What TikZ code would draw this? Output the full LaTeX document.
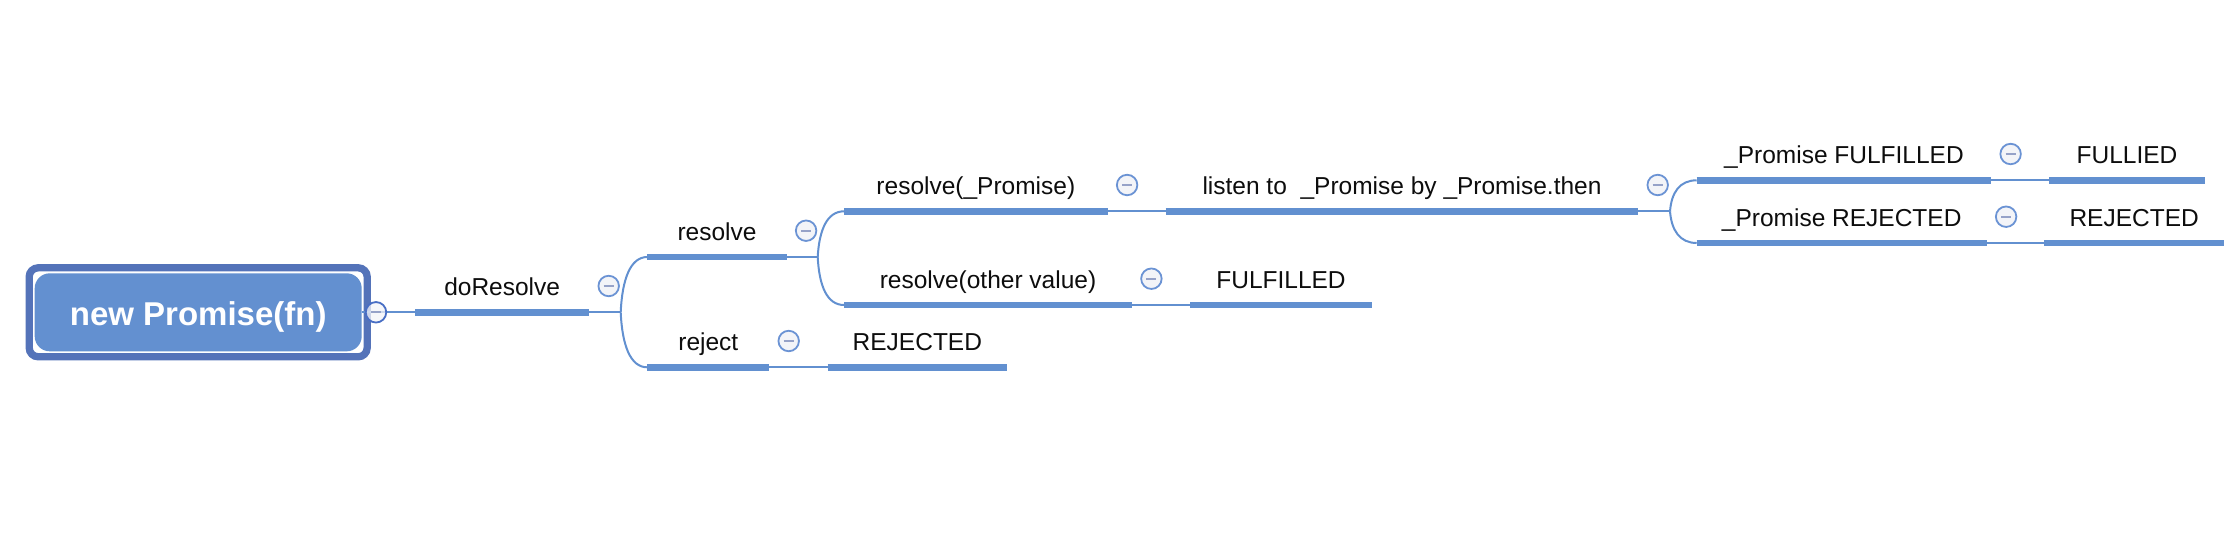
\documentclass[tikz,border=0pt]{standalone}
\usepackage{fontspec}
\setmainfont{Liberation Sans}

\definecolor{mapblue}{RGB}{98,144,208}
\definecolor{rootfill}{RGB}{99,144,208}
\definecolor{rootframe}{RGB}{84,115,185}
\definecolor{ringblue}{RGB}{107,147,212}
\definecolor{ringdark}{RGB}{72,110,196}
\definecolor{ringfill}{RGB}{243,244,248}
\definecolor{minusgray}{RGB}{150,162,200}

\begin{document}
\begin{tikzpicture}[
    x=1pt, y=-1pt,
    topic/.style={anchor=south west, minimum width=#1, inner xsep=0pt, inner ysep=16.7pt,
        outer sep=0pt, text depth=0pt, text=black!95, font=\fontsize{24.5}{29}\selectfont},
    underline/.style={draw=mapblue, line width=6.7pt},
    connection/.style={draw=mapblue, line width=2pt},
    collapse/.style={circle, draw=ringblue, fill=ringfill, line width=1.8pt, minimum size=20.5pt,
        inner sep=0pt, path picture={\draw[minusgray, line width=2pt]
        ([xshift=-5pt]path picture bounding box.center) -- ([xshift=5pt]path picture bounding box.center);}},
    root/.style={rounded corners=15pt, fill=rootfill, text=white, minimum width=327pt, minimum height=78pt,
        inner sep=0pt, outer sep=0pt, text height=25.4pt, text depth=0pt,
        font=\bfseries\fontsize{33}{38}\selectfont},
    root frame/.style={draw=rootframe, line width=7.3pt, rounded corners=9pt}
]

\useasboundingbox (0,0) rectangle (2232,558);

% Root
\node[root] (root) at (198.2,312.3) {new Promise(fn)};
\draw[root frame] ([shift={(-5.5,-5.5)}]root.north west) rectangle ([shift={(5.5,5.5)}]root.south east);

% Level 1
\node[topic=174.3pt] (doResolve) at (415,312.3) {doResolve};
\draw[underline] (doResolve.south west) -- (doResolve.south east);
\draw[connection] (root.east) -- (doResolve.south west);
\node[collapse, draw=ringdark, fill opacity=0.75] (rootBtn) at ([xshift=14.3pt]root.east) {};
\node[collapse] (doResolveBtn) at ([shift={(19.4,-26.3)}]doResolve.south east) {};

% Level 2
\node[topic=139.4pt] (resolve) at (647.3,257) {resolve};
\node[topic=122pt] (reject) at (647.3,367.3) {reject};
\draw[underline] (resolve.south west) -- (resolve.south east);
\draw[underline] (reject.south west) -- (reject.south east);
\draw[connection] (doResolve.south east) -- ++(31.4,0) coordinate (split1);
\draw[connection] (split1) .. controls +(1.5,-33) and +(-17,0) .. (resolve.south west);
\draw[connection] (split1) .. controls +(1.5,33) and +(-17,0) .. (reject.south west);
\node[collapse] (resolveBtn) at ([shift={(19.4,-26.3)}]resolve.south east) {};
\node[collapse] (rejectBtn) at ([shift={(19.4,-26.3)}]reject.south east) {};

% Level 3
\node[topic=263.7pt] (resolvePromise) at (844,211.3) {resolve(\_Promise)};
\node[topic=288pt] (resolveOther) at (844,305) {resolve(other value)};
\node[topic=179.3pt] (rejected) at (827.7,367.3) {REJECTED};
\draw[underline] (resolvePromise.south west) -- (resolvePromise.south east);
\draw[underline] (resolveOther.south west) -- (resolveOther.south east);
\draw[underline] (rejected.south west) -- (rejected.south east);
\draw[connection] (resolve.south east) -- ++(31,0) coordinate (split2);
\draw[connection] (split2) .. controls +(1.5,-27) and +(-17,0) .. (resolvePromise.south west);
\draw[connection] (split2) .. controls +(1.5,29) and +(-17,0) .. (resolveOther.south west);
\draw[connection] (reject.south east) -- (rejected.south west);
\node[collapse] (resolvePromiseBtn) at ([shift={(19.4,-26.3)}]resolvePromise.south east) {};
\node[collapse] (resolveOtherBtn) at ([shift={(19.4,-26.3)}]resolveOther.south east) {};

% Level 4
\node[topic=472.6pt] (listen) at (1165.7,211.3) {listen to\ \ \_Promise by \_Promise.then};
\node[topic=182pt] (fulfilled) at (1190,305) {FULFILLED};
\draw[underline] (listen.south west) -- (listen.south east);
\draw[underline] (fulfilled.south west) -- (fulfilled.south east);
\draw[connection] (resolvePromise.south east) -- (listen.south west);
\draw[connection] (resolveOther.south east) -- (fulfilled.south west);
\node[collapse] (listenBtn) at ([shift={(19.4,-26.3)}]listen.south east) {};

% Level 5
\node[topic=294.5pt] (promiseFulfilled) at (1696.7,180.3) {\_Promise FULFILLED};
\node[topic=290pt] (promiseRejected) at (1696.7,243) {\_Promise REJECTED};
\draw[underline] (promiseFulfilled.south west) -- (promiseFulfilled.south east);
\draw[underline] (promiseRejected.south west) -- (promiseRejected.south east);
\draw[connection] (listen.south east) -- ++(31.7,0) coordinate (split3);
\draw[connection] (split3) .. controls +(1.5,-19) and +(-17,0) .. (promiseFulfilled.south west);
\draw[connection] (split3) .. controls +(1.5,19) and +(-17,0) .. (promiseRejected.south west);
\node[collapse] (promiseFulfilledBtn) at ([shift={(19.4,-26.3)}]promiseFulfilled.south east) {};
\node[collapse] (promiseRejectedBtn) at ([shift={(19.4,-26.3)}]promiseRejected.south east) {};

% Level 6
\node[topic=155.4pt] (fullied) at (2049.3,180.3) {FULLIED};
\node[topic=179.7pt] (rejectedEnd) at (2044.3,243) {REJECTED};
\draw[underline] (fullied.south west) -- (fullied.south east);
\draw[underline] (rejectedEnd.south west) -- (rejectedEnd.south east);
\draw[connection] (promiseFulfilled.south east) -- (fullied.south west);
\draw[connection] (promiseRejected.south east) -- (rejectedEnd.south west);

\end{tikzpicture}
\end{document}
